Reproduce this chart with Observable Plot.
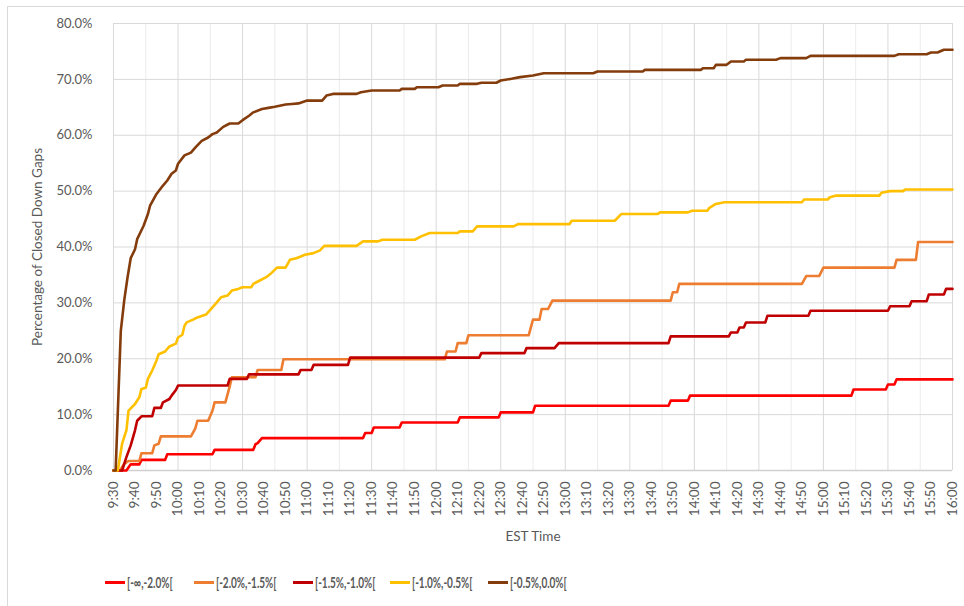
<!DOCTYPE html>
<html>
<head>
<meta charset="utf-8">
<script src="https://cdn.jsdelivr.net/npm/d3@7"></script>
<script src="https://cdn.jsdelivr.net/npm/@observablehq/plot@0.6"></script>
<style>
  html, body { margin: 0; padding: 0; background: #fff; }
  body { width: 964px; height: 606px; overflow: hidden; position: relative; font-family: Lato, "Open Sans", sans-serif; }
  #frame { position: absolute; left: 7px; top: 6px; width: 1000px; height: 700px; border-top: 1px solid #d9d9d9; border-left: 1px solid #d9d9d9; pointer-events: none; }
  #legend { position: relative; height: 50px; }
  .item { position: absolute; top: 18px; display: flex; align-items: center; font-size: 14.5px; font-weight: bold; color: #595959; white-space: nowrap; }
  .swatch { width: 20px; height: 3px; margin-right: 2px; }
  .lbl { display: inline-block; transform: scaleX(0.69); transform-origin: left center; }
</style>
</head>
<body>
<div id="chart"></div>
<div id="legend"></div>
<div id="frame"></div>
<script>
// minutes after 9:30 EST, percentage of closed down gaps
const seriesNames = ["[-∞,-2.0%[", "[-2.0%,-1.5%[", "[-1.5%,-1.0%[", "[-1.0%,-0.5%[", "[-0.5%,0.0%["];
const seriesColors = ["#FF0000", "#ED7D31", "#C00000", "#FFC000", "#843C0C"];

const gapMinf20 = [[0,0],[6,0],[8,1.1],[12,1.1],[13,1.9],[24,1.9],[25,2.9],[46,2.9],[47,3.7],[65,3.7],[66,4.7],[67,4.9],[69,5.8],[116,5.8],[117,6.7],[120,6.7],[121,7.7],[133,7.7],[134,8.6],[160,8.6],[161,9.5],[179,9.5],[180,10.4],[195,10.4],[196,11.6],[258,11.6],[259,12.5],[267,12.5],[268,13.4],[343,13.4],[344,14.5],[359,14.5],[360,15.4],[363,15.4],[364,16.3],[390,16.3]];

const gap20to15 = [[0,0],[3,0],[5,1.2],[7,1.7],[12,1.7],[13,3.1],[18,3.1],[19,4.5],[21,4.8],[22,6.1],[36,6.1],[38,7.5],[39,8.9],[44,8.9],[46,10.7],[47,12.2],[52,12.2],[54,15.0],[55,16.7],[66,16.7],[67,18.0],[78,18.0],[79,19.9],[154,19.9],[155,21.3],[159,21.3],[160,22.8],[164,22.8],[165,24.2],[193,24.2],[194,25.6],[195,27.0],[198,27.0],[199,28.9],[202,28.9],[204,30.4],[259,30.4],[260,31.9],[262,31.9],[263,33.4],[320,33.4],[322,34.8],[328,34.8],[330,36.3],[363,36.3],[364,37.7],[373,37.7],[374,40.9],[390,40.9]];

const gap15to10 = [[0,0],[4,0],[6,2.4],[8,4.5],[10,7.2],[11,8.9],[13,9.7],[18,9.7],[19,11.2],[22,11.2],[23,12.2],[26,12.8],[27,13.4],[29,14.4],[30,15.2],[53,15.2],[54,16.4],[62,16.4],[63,17.2],[86,17.2],[87,18.0],[92,18.0],[93,18.9],[109,18.9],[110,20.2],[170,20.2],[171,21.0],[191,21.0],[192,21.9],[205,21.9],[207,22.8],[258,22.8],[259,24.0],[286,24.0],[287,24.7],[290,24.7],[291,25.6],[293,25.6],[294,26.5],[303,26.5],[304,27.7],[323,27.7],[324,28.6],[360,28.6],[361,29.4],[370,29.4],[371,30.3],[378,30.3],[379,31.5],[386,31.5],[387,32.5],[390,32.5]];

const gap10to05 = [[0,0],[2,0],[4,4.8],[6,7.2],[7,10.7],[10,11.9],[12,13.1],[13,14.6],[15,14.8],[16,16.4],[18,17.9],[20,19.7],[21,20.8],[24,21.3],[26,22.2],[29,22.7],[30,23.8],[32,24.3],[33,25.9],[34,26.5],[37,27.0],[39,27.4],[43,27.9],[46,29.2],[48,30.1],[50,31.0],[53,31.3],[55,32.2],[58,32.5],[60,32.8],[64,32.8],[65,33.4],[68,34.0],[71,34.6],[73,35.2],[76,36.3],[80,36.3],[82,37.7],[85,38.0],[89,38.6],[93,38.9],[96,39.4],[98,40.2],[113,40.2],[116,41.0],[123,41.0],[125,41.3],[140,41.3],[143,41.9],[147,42.5],[160,42.5],[161,42.8],[167,42.8],[169,43.7],[186,43.7],[188,44.1],[212,44.1],[213,44.7],[233,44.7],[236,45.9],[253,45.9],[254,46.2],[267,46.2],[269,46.5],[276,46.5],[277,47.0],[280,47.7],[284,48.0],[320,48.0],[321,48.5],[332,48.5],[333,48.9],[336,49.2],[356,49.2],[357,49.7],[361,50.0],[367,50.0],[368,50.3],[390,50.3]];

const gap05to00 = [[0,0],[1,0],[3.4,25],[5,30.5],[6.5,34.5],[8,38.0],[10,39.6],[11,41.4],[14,43.8],[16,45.9],[17,47.4],[20,49.5],[23,51.0],[25,51.9],[27,53.1],[29,53.7],[30,54.9],[33,56.4],[36,56.9],[38,57.8],[41,59.0],[44,59.6],[46,60.2],[48,60.5],[51,61.5],[54,62.1],[58,62.1],[60,62.7],[63,63.5],[65,64.1],[69,64.7],[72,64.9],[75,65.1],[80,65.5],[83,65.6],[86,65.7],[90,66.2],[97,66.2],[99,67.1],[102,67.4],[113,67.4],[115,67.7],[120,68.0],[133,68.0],[134,68.3],[140,68.3],[141,68.6],[151,68.6],[153,68.9],[160,68.9],[161,69.2],[169,69.2],[171,69.4],[178,69.4],[180,69.8],[185,70.1],[189,70.4],[195,70.7],[200,71.1],[223,71.1],[225,71.4],[246,71.4],[247,71.7],[273,71.7],[274,72.0],[279,72.0],[280,72.6],[285,72.6],[287,73.2],[293,73.2],[294,73.5],[308,73.5],[310,73.8],[322,73.8],[324,74.2],[363,74.2],[365,74.5],[378,74.5],[380,74.8],[383,74.8],[386,75.3],[390,75.3]];

const seriesData = [gapMinf20, gap20to15, gap15to10, gap10to05, gap05to00];

const xTicks = d3.range(0, 391, 10);
const yTicks = d3.range(0, 81, 10);
const majorGrid = d3.range(0, 391, 30);
const minorGrid = d3.range(15, 391, 30);

const timeLabel = m => {
  const t = 9 * 60 + 30 + m;
  return `${Math.floor(t / 60)}:${String(t % 60).padStart(2, "0")}`;
};

const textColor = "#595959";

const marks = [
  Plot.ruleX(minorGrid, {stroke: "#ececec", strokeWidth: 1}),
  Plot.ruleX(majorGrid, {stroke: "#d9d9d9", strokeWidth: 1}),
  Plot.gridY(yTicks, {stroke: "#d9d9d9", strokeOpacity: 1, strokeWidth: 1}),
  Plot.ruleY([0], {stroke: "#d0d0d0", strokeWidth: 1.5}),
  Plot.axisX(xTicks, {tickSize: 0, tickPadding: 11, tickRotate: -90, tickFormat: timeLabel, label: null, fill: textColor, fontSize: 13.5}),
  Plot.axisY(yTicks, {tickSize: 0, tickPadding: 21, tickFormat: d => d.toFixed(1) + "%", label: null, fill: textColor, fontSize: 13}),
  ...seriesData.map((s, i) => Plot.line(s, {x: d => d[0], y: d => d[1], stroke: seriesColors[i], strokeWidth: 2.6, strokeLinejoin: "round", strokeLinecap: "round"})),
  Plot.text(["Percentage of Closed Down Gaps"], {frameAnchor: "left", textAnchor: "middle", lineAnchor: "middle", dx: -76, rotate: -90, fill: textColor, fontSize: 13.5}),
  Plot.text(["EST Time"], {frameAnchor: "bottom", textAnchor: "middle", lineAnchor: "middle", dy: 66, fill: textColor, fontSize: 13.5})
];

const chart = Plot.plot({
  width: 964,
  height: 556,
  marginTop: 23,
  marginBottom: 86,
  marginLeft: 113,
  marginRight: 12,
  style: {fontFamily: "Lato, 'Open Sans', sans-serif", fontSize: "13px", color: textColor, background: "transparent", overflow: "visible"},
  x: {domain: [0, 390]},
  y: {domain: [0, 80]},
  marks
});
document.getElementById("chart").appendChild(chart);

const legendLeft = [105, 194, 293, 390, 488];
const legend = document.getElementById("legend");
seriesNames.forEach((name, i) => {
  const item = document.createElement("div");
  item.className = "item";
  item.style.left = legendLeft[i] + "px";
  const sw = document.createElement("span");
  sw.className = "swatch";
  sw.style.background = seriesColors[i];
  const label = document.createElement("span");
  label.className = "lbl";
  label.textContent = name;
  item.appendChild(sw);
  item.appendChild(label);
  legend.appendChild(item);
});
</script>
</body>
</html>
